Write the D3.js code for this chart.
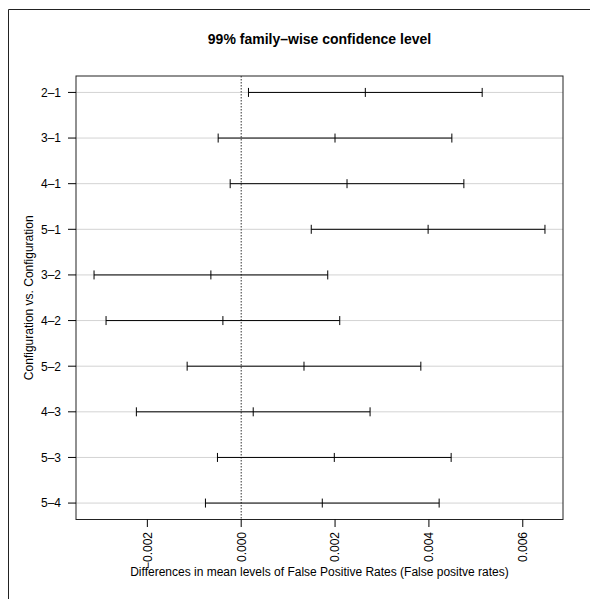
<!DOCTYPE html>
<html>
<head>
<meta charset="utf-8">
<script src="https://cdn.jsdelivr.net/npm/d3@7"></script>
<style>
  body { margin: 0; background: #fff; }
</style>
</head>
<body>
<svg id="chart" width="590" height="599"></svg>
<script>
// comparisons, top to bottom
const comparisons = ["2–1", "3–1", "4–1", "5–1", "3–2", "4–2", "5–2", "4–3", "5–3", "5–4"];
const diffs = [0.002645, 0.001999, 0.002255, 0.003983, -0.000646, -0.00039, 0.001338, 0.000256, 0.001984, 0.001728];
const lowers = [0.000155, -0.000491, -0.000235, 0.001493, -0.003136, -0.00288, -0.001152, -0.002234, -0.000506, -0.000762];
const uppers = [0.005135, 0.004489, 0.004745, 0.006473, 0.001844, 0.0021, 0.003828, 0.002746, 0.004474, 0.004218];
const xTicks = [-0.002, 0, 0.002, 0.004, 0.006];

const titleText = "99% family–wise confidence level";
const xLabel = "Differences in mean levels of False Positive Rates (False positve rates)";
const yLabel = "Configuration vs. Configuration";

const rows = comparisons.map((c, i) => ({
  label: c,
  yv: comparisons.length - i,
  diff: diffs[i],
  lwr: lowers[i],
  upr: uppers[i],
}));

const plotLeft = 76, plotRight = 563, plotTop = 76, plotBottom = 519.5;

// R style 4% padding on both axes
const xMin = d3.min(lowers), xMax = d3.max(uppers);
const xPad = (xMax - xMin) * 0.04;
const x = d3.scaleLinear().domain([xMin - xPad, xMax + xPad]).range([plotLeft, plotRight]);

const yPad = (comparisons.length - 1) * 0.04;
const y = d3.scaleLinear().domain([1 - yPad, comparisons.length + yPad]).range([plotBottom, plotTop]);

const fmt = d3.format(".3f");
const font = "'Liberation Sans', Arial, Helvetica, sans-serif";

const svg = d3.select("#chart");
const chart = svg.append("g").attr("font-family", font).attr("fill", "#000");

// outer frame (only left and top edges show)
chart
  .append("path")
  .attr("d", "M8.5,599 L8.5,9.5 L590,9.5")
  .attr("fill", "none")
  .attr("stroke", "#222")
  .attr("stroke-width", 1);

// grid lines
chart
  .append("g")
  .attr("class", "grid")
  .selectAll("line")
  .data(rows)
  .join("line")
  .attr("x1", plotLeft)
  .attr("x2", plotRight)
  .attr("y1", (d) => y(d.yv))
  .attr("y2", (d) => y(d.yv))
  .attr("stroke", "#d3d3d3")
  .attr("stroke-width", 1);

// zero line
chart
  .append("line")
  .attr("x1", x(0))
  .attr("x2", x(0))
  .attr("y1", plotTop)
  .attr("y2", plotBottom)
  .attr("stroke", "#333")
  .attr("stroke-width", 1)
  .attr("stroke-dasharray", "1.5,1.5");

// intervals
const intervals = chart
  .append("g")
  .attr("class", "intervals")
  .selectAll("g")
  .data(rows)
  .join("g")
  .attr("transform", (d) => `translate(0 ${y(d.yv)})`);

intervals
  .append("line")
  .attr("x1", (d) => x(d.lwr))
  .attr("x2", (d) => x(d.upr))
  .attr("stroke", "#000")
  .attr("stroke-width", 1);

intervals
  .selectAll("line.mark")
  .data((d) => [d.lwr, d.diff, d.upr])
  .join("line")
  .attr("class", "mark")
  .attr("x1", (d) => x(d))
  .attr("x2", (d) => x(d))
  .attr("y1", -4.5)
  .attr("y2", 4.5)
  .attr("stroke", "#000")
  .attr("stroke-width", 1);

// box
chart
  .append("rect")
  .attr("x", plotLeft)
  .attr("y", plotTop)
  .attr("width", plotRight - plotLeft)
  .attr("height", plotBottom - plotTop)
  .attr("fill", "none")
  .attr("stroke", "#222")
  .attr("stroke-width", 1);

// x axis ticks
const xAxis = chart
  .append("g")
  .attr("class", "x-axis")
  .selectAll("g")
  .data(xTicks)
  .join("g")
  .attr("transform", (d) => `translate(${x(d)} ${plotBottom})`);

xAxis.append("line").attr("y2", 7.5).attr("stroke", "#000");

xAxis
  .append("text")
  .attr("transform", "translate(4.3 12.5) rotate(-90)")
  .attr("text-anchor", "end")
  .attr("font-size", 12)
  .text((d) => fmt(d));

// y axis ticks
const yAxis = chart
  .append("g")
  .attr("class", "y-axis")
  .selectAll("g")
  .data(rows)
  .join("g")
  .attr("transform", (d) => `translate(${plotLeft} ${y(d.yv)})`);

yAxis.append("line").attr("x2", -8).attr("stroke", "#000");

yAxis
  .append("text")
  .attr("x", -15)
  .attr("dy", "0.36em")
  .attr("text-anchor", "end")
  .attr("font-size", 12)
  .text((d) => d.label);

// title and axis labels
chart
  .append("text")
  .attr("x", (plotLeft + plotRight) / 2)
  .attr("y", 44)
  .attr("text-anchor", "middle")
  .attr("font-size", 14)
  .attr("font-weight", "bold")
  .text(titleText);

chart
  .append("text")
  .attr("x", (plotLeft + plotRight) / 2)
  .attr("y", 576)
  .attr("text-anchor", "middle")
  .attr("font-size", 12)
  .text(xLabel);

chart
  .append("text")
  .attr("transform", `translate(33 ${(plotTop + plotBottom) / 2}) rotate(-90)`)
  .attr("text-anchor", "middle")
  .attr("font-size", 12)
  .text(yLabel);
</script>
</body>
</html>
